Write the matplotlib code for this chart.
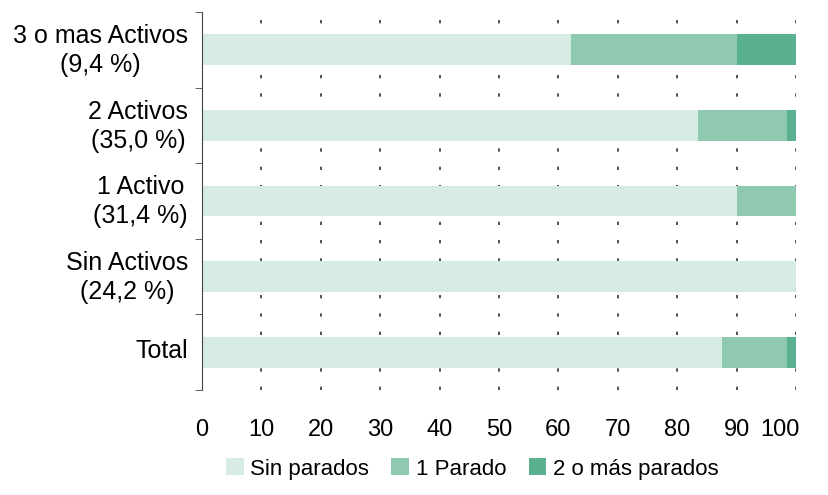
import matplotlib
matplotlib.use('Agg')
import matplotlib.pyplot as plt
import matplotlib.transforms as mtransforms
import numpy as np

plt.rcParams['font.family'] = ['Liberation Sans', 'DejaVu Sans']

categorias = ['Total', 'Sin Activos\n(24,2 %)', '1 Activo\n(31,4 %)',
              '2 Activos\n(35,0 %)', '3 o mas Activos\n(9,4 %)']
sin_parados = [87.5, 100.0, 90.1, 83.5, 62.1]
un_parado = [11.0, 0.0, 9.9, 15.0, 28.0]
dos_mas = [1.5, 0.0, 0.0, 1.5, 9.9]
series_nombres = ['Sin parados', '1 Parado', '2 o más parados']
colores = ['#D6ECE3', '#8FCAB0', '#5AB190']
xticks = [0, 10, 20, 30, 40, 50, 60, 70, 80, 90, 100]

fig = plt.figure(figsize=(8.29, 4.95), dpi=100)
ax = fig.add_axes([202/829, 1 - 390/495, 594/829, 378/495])

y = np.arange(len(categorias))
izq = np.zeros(len(categorias))
for vals, nombre, c in zip([sin_parados, un_parado, dos_mas], series_nombres, colores):
    ax.barh(y, vals, left=izq, height=0.41, color=c, label=nombre, zorder=2)
    izq = izq + np.array(vals)

for xt in xticks[1:]:
    ax.axvline(xt, color='#333333', lw=1.2, linestyle=(0, (2, 9)), zorder=1)

ax.set_xlim(0, 100)
ax.set_ylim(-0.5, len(categorias) - 0.5)
ax.set_xticks(xticks)
ax.set_xticklabels([str(v) for v in xticks], fontsize=17)
ax.tick_params(axis='x', length=0, pad=21)
ax.set_yticks(y)
ax.set_yticklabels(categorias, fontsize=18, multialignment='center', linespacing=1.25)
ax.tick_params(axis='y', length=0, pad=10)
ax.set_yticks(np.arange(-0.5, len(categorias), 1), minor=True)
ax.tick_params(axis='y', which='minor', length=5, color='#444444')

# subir un poco las etiquetas del eje y
desplaz = mtransforms.ScaledTranslation(0, 4/100, fig.dpi_scale_trans)
for lab in ax.get_yticklabels():
    lab.set_transform(lab.get_transform() + desplaz)

# la etiqueta "100" queda pegada al borde derecho
ultima = ax.get_xticklabels()[-1]
ultima.set_horizontalalignment('right')
ultima.set_transform(ultima.get_transform() + mtransforms.ScaledTranslation(4/100, 0, fig.dpi_scale_trans))

for s in ['top', 'right', 'bottom']:
    ax.spines[s].set_visible(False)
ax.spines['left'].set_color('#444444')

ax.legend(loc='upper center', bbox_to_anchor=(0.455, -0.128), ncol=3, frameon=False,
          fontsize=16, handlelength=0.8, handleheight=0.8, columnspacing=1.0,
          handletextpad=0.3)

fig.savefig('out.png', dpi=100)
